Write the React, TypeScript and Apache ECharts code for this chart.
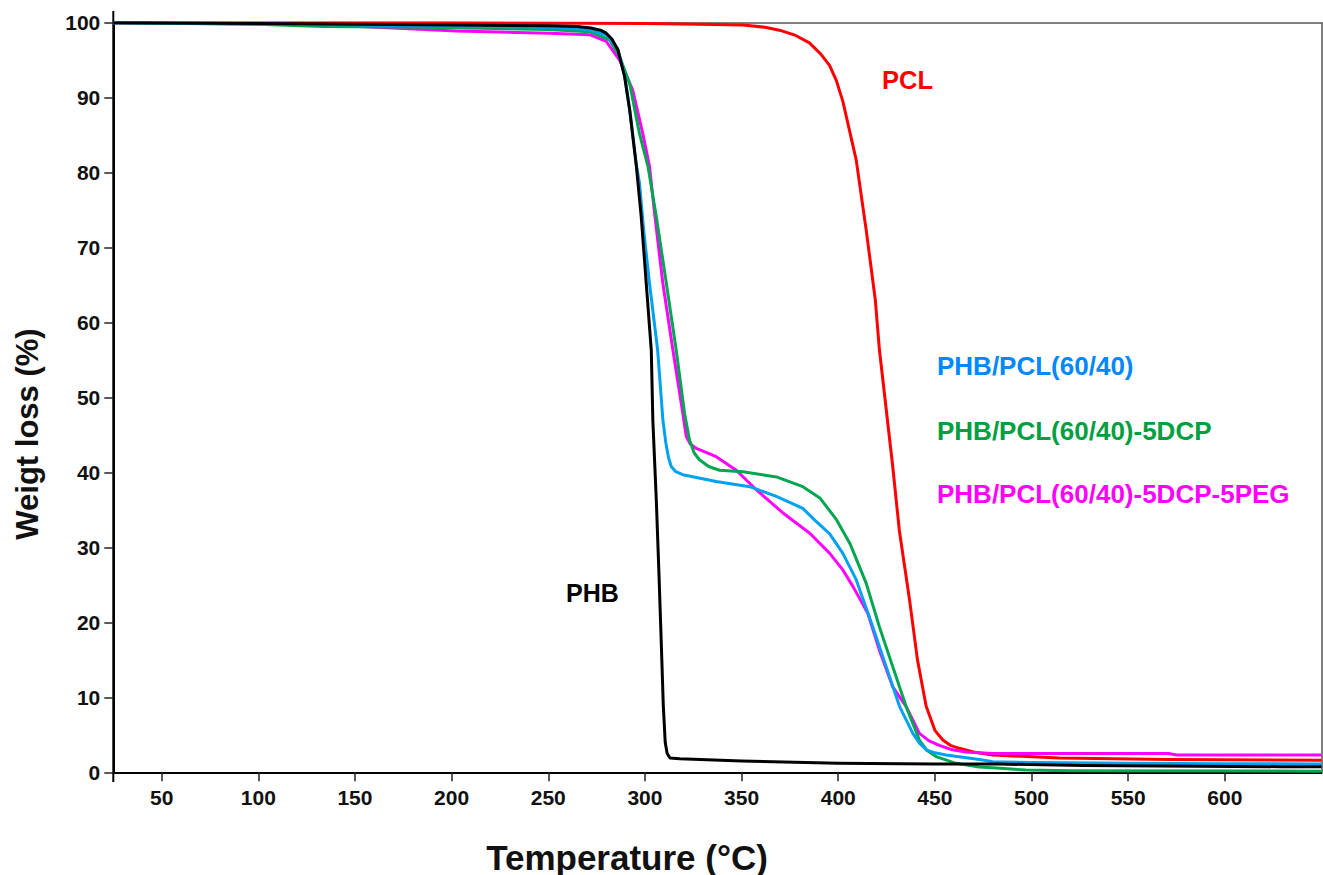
import React, { useEffect, useRef } from "react";
import * as echarts from "echarts";

const xTicks = [50, 100, 150, 200, 250, 300, 350, 400, 450, 500, 550, 600];

const pclT = [25, 200, 300, 328, 350.6, 362, 369.6, 378, 385.1, 391, 395.5, 399, 402.4, 409.3, 414.5, 419.2, 421.3, 428.2, 431.6, 436.9, 441, 445.5, 450, 454.1, 458, 462.7, 470, 479.9, 514.5, 571, 650];
const pclW = [100, 100, 99.9, 99.8, 99.7, 99.4, 99.0, 98.3, 97.3, 95.8, 94.3, 92.3, 89.5, 81.7, 72.3, 63.0, 56.4, 40.8, 32.3, 23.0, 15.0, 8.8, 5.6, 4.3, 3.6, 3.2, 2.7, 2.3, 1.9, 1.7, 1.6];

const phbT = [25, 150, 200, 250, 265, 272, 277, 280, 283, 286, 289.5, 292.1, 295.6, 298.1, 300.7, 303.3, 304.1, 305.9, 307.2, 308.5, 309.5, 310.5, 311.5, 313, 318, 350, 400, 450, 483, 527, 629, 650];
const phbW = [100, 99.8, 99.7, 99.6, 99.5, 99.3, 99.0, 98.6, 97.8, 96.4, 92.8, 88.4, 80.8, 74.1, 65.2, 56.3, 47.0, 36.3, 27.0, 17.0, 9.0, 4.0, 2.5, 1.9, 1.8, 1.5, 1.2, 1.1, 1.1, 0.9, 0.75, 0.75];

const blendT = [25, 150, 250, 270, 280, 286, 289.5, 292.1, 295.6, 297.2, 299.5, 302.4, 306.6, 309.3, 310.8, 312.2, 313.6, 316, 319.6, 336.9, 354.2, 368, 381.7, 388, 395.6, 402.4, 409.3, 417.9, 424.8, 431.7, 438.6, 442, 445.5, 450, 455.8, 473, 480, 500, 550, 600, 650];
const blendW = [100, 99.7, 99.4, 99.1, 98.4, 96.5, 93, 88.5, 81, 78.6, 72, 65.2, 56.3, 47, 44, 42, 40.8, 40.1, 39.7, 38.8, 38.1, 36.8, 35.2, 33.6, 31.8, 29.2, 25.7, 19.4, 14.1, 8.8, 5.2, 3.9, 3.0, 2.6, 2.3, 1.7, 1.4, 1.3, 1.2, 1.15, 1.1];

const dcpT = [25, 99, 134, 187, 250, 271.4, 281.8, 286.9, 292.1, 297.2, 301.6, 305.9, 311.1, 316.2, 320.5, 323.1, 325.5, 328.2, 333, 338.6, 350.7, 368, 381.7, 390.5, 399.1, 406.1, 414.5, 421.3, 428.2, 435.1, 442, 446, 450.6, 461, 473, 480, 497, 520, 650];
const dcpW = [100, 99.8, 99.5, 99.4, 99.1, 98.8, 97.7, 95.5, 91.9, 85.2, 80.8, 74.1, 65.2, 56.3, 47.9, 44.3, 42.6, 41.7, 40.8, 40.3, 40.1, 39.4, 38.1, 36.6, 33.7, 30.5, 25.2, 19.4, 14.1, 8.8, 4.3, 2.9, 2.1, 1.2, 0.7, 0.6, 0.3, 0.2, 0.15];

const pegT = [25, 120, 143.9, 169.7, 202.5, 233.5, 250.7, 271.4, 280, 286.9, 293.7, 298.9, 302.4, 305, 309.3, 314.5, 319.6, 321.4, 323.5, 326.6, 336.9, 347.3, 357.6, 371.4, 385.3, 395.6, 402.4, 407.6, 415.3, 421.3, 428.2, 435.1, 442, 447, 452.3, 459, 466, 480, 571, 575, 650];
const pegW = [100, 99.8, 99.6, 99.3, 98.9, 98.7, 98.6, 98.4, 97.5, 95.0, 91.0, 85.2, 80.8, 74.6, 65.2, 56.3, 47.9, 44.8, 43.8, 43.2, 42.1, 40.3, 37.7, 34.6, 31.9, 29.2, 27.0, 24.8, 21.2, 16.3, 11.4, 8.8, 5.2, 4.2, 3.6, 3.0, 2.7, 2.5, 2.5, 2.3, 2.3];

const seriesNames = ["PCL", "PHB/PCL(60/40)-5DCP-5PEG", "PHB/PCL(60/40)-5DCP", "PHB/PCL(60/40)", "PHB"];
const lineColors = ["#FF0000", "#FF00FF", "#00A650", "#00A2F0", "#000000"];

const FONT = "Arial, 'Liberation Sans', Helvetica, sans-serif";

const zip = (t: number[], w: number[]) => t.map((v, i) => [v, w[i]]);

export default function App() {
  const ref = useRef<HTMLDivElement>(null);
  useEffect(() => {
    const chart = echarts.init(ref.current!, null, { renderer: "svg" });
    const datasets = [zip(pclT, pclW), zip(pegT, pegW), zip(dcpT, dcpW), zip(blendT, blendW), zip(phbT, phbW)];
    chart.setOption({
      animation: false,
      backgroundColor: "#ffffff",
      grid: { left: 113.3, right: 1.5, top: 22.7, bottom: 102.7, outerBoundsMode: "none" },
      xAxis: [
        {
          type: "value",
          min: 25,
          max: 650,
          position: "bottom",
          splitLine: { show: false },
          axisLine: { show: true, lineStyle: { color: "#000", width: 2 } },
          axisTick: { show: true, length: 9, customValues: xTicks, lineStyle: { color: "#222", width: 1.5 } },
          axisLabel: { customValues: xTicks, margin: 15, fontSize: 21, fontWeight: "bold", color: "#111", fontFamily: FONT },
        },
        {
          type: "value",
          min: 25,
          max: 650,
          position: "top",
          splitLine: { show: false },
          axisLine: { show: true, onZero: false, lineStyle: { color: "#555", width: 1.5 } },
          axisTick: { show: false },
          axisLabel: { show: false },
        },
      ],
      yAxis: [
        {
          type: "value",
          min: 0,
          max: 100,
          interval: 10,
          splitLine: { show: false },
          axisLine: { show: true, lineStyle: { color: "#000", width: 2 } },
          axisTick: { show: true, length: 9, lineStyle: { color: "#222", width: 1.5 } },
          axisLabel: { margin: 13, fontSize: 21, fontWeight: "bold", color: "#111", fontFamily: FONT },
        },
        {
          type: "value",
          min: 0,
          max: 100,
          position: "right",
          splitLine: { show: false },
          axisLine: { show: true, onZero: false, lineStyle: { color: "#555", width: 1.5 } },
          axisTick: { show: false },
          axisLabel: { show: false },
        },
      ],
      series: seriesNames.map((name, i) => ({
        name,
        type: "line",
        data: datasets[i],
        showSymbol: false,
        smooth: false,
        lineStyle: { color: lineColors[i], width: 3, join: "round" },
        itemStyle: { color: lineColors[i] },
      })),
      graphic: [
        { type: "line", shape: { x1: 113.3, y1: 11, x2: 113.3, y2: 782 }, style: { stroke: "#000", lineWidth: 2 } },
        {
          type: "text",
          x: 627,
          y: 857,
          style: { text: "Temperature (°C)", fontSize: 35, fontWeight: "bold", fill: "#111", fontFamily: FONT, textAlign: "center", textVerticalAlign: "middle" },
        },
        {
          type: "text",
          x: 27,
          y: 434,
          rotation: Math.PI / 2,
          style: { text: "Weigt loss (%)", fontSize: 31, fontWeight: "bold", fill: "#111", fontFamily: FONT, textAlign: "center", textVerticalAlign: "middle" },
        },
        { type: "text", x: 882, y: 80, style: { text: "PCL", fontSize: 25.5, fontWeight: "bold", fill: "#FF0000", fontFamily: FONT, textAlign: "left", textVerticalAlign: "middle" } },
        { type: "text", x: 566, y: 593, style: { text: "PHB", fontSize: 25, fontWeight: "bold", fill: "#000", fontFamily: FONT, textAlign: "left", textVerticalAlign: "middle" } },
        { type: "text", x: 937, y: 366, style: { text: "PHB/PCL(60/40)", fontSize: 26, fontWeight: "bold", fill: "#0088FF", fontFamily: FONT, textAlign: "left", textVerticalAlign: "middle" } },
        { type: "text", x: 937, y: 431, style: { text: "PHB/PCL(60/40)-5DCP", fontSize: 26, fontWeight: "bold", fill: "#00A040", fontFamily: FONT, textAlign: "left", textVerticalAlign: "middle" } },
        { type: "text", x: 937, y: 494, style: { text: "PHB/PCL(60/40)-5DCP-5PEG", fontSize: 26, fontWeight: "bold", fill: "#FF00FF", fontFamily: FONT, textAlign: "left", textVerticalAlign: "middle" } },
      ],
    });
    return () => chart.dispose();
  }, []);
  return <div ref={ref} style={{ position: "absolute", left: 0, top: 0, width: 1323, height: 875, background: "#fff" }} />;
}
